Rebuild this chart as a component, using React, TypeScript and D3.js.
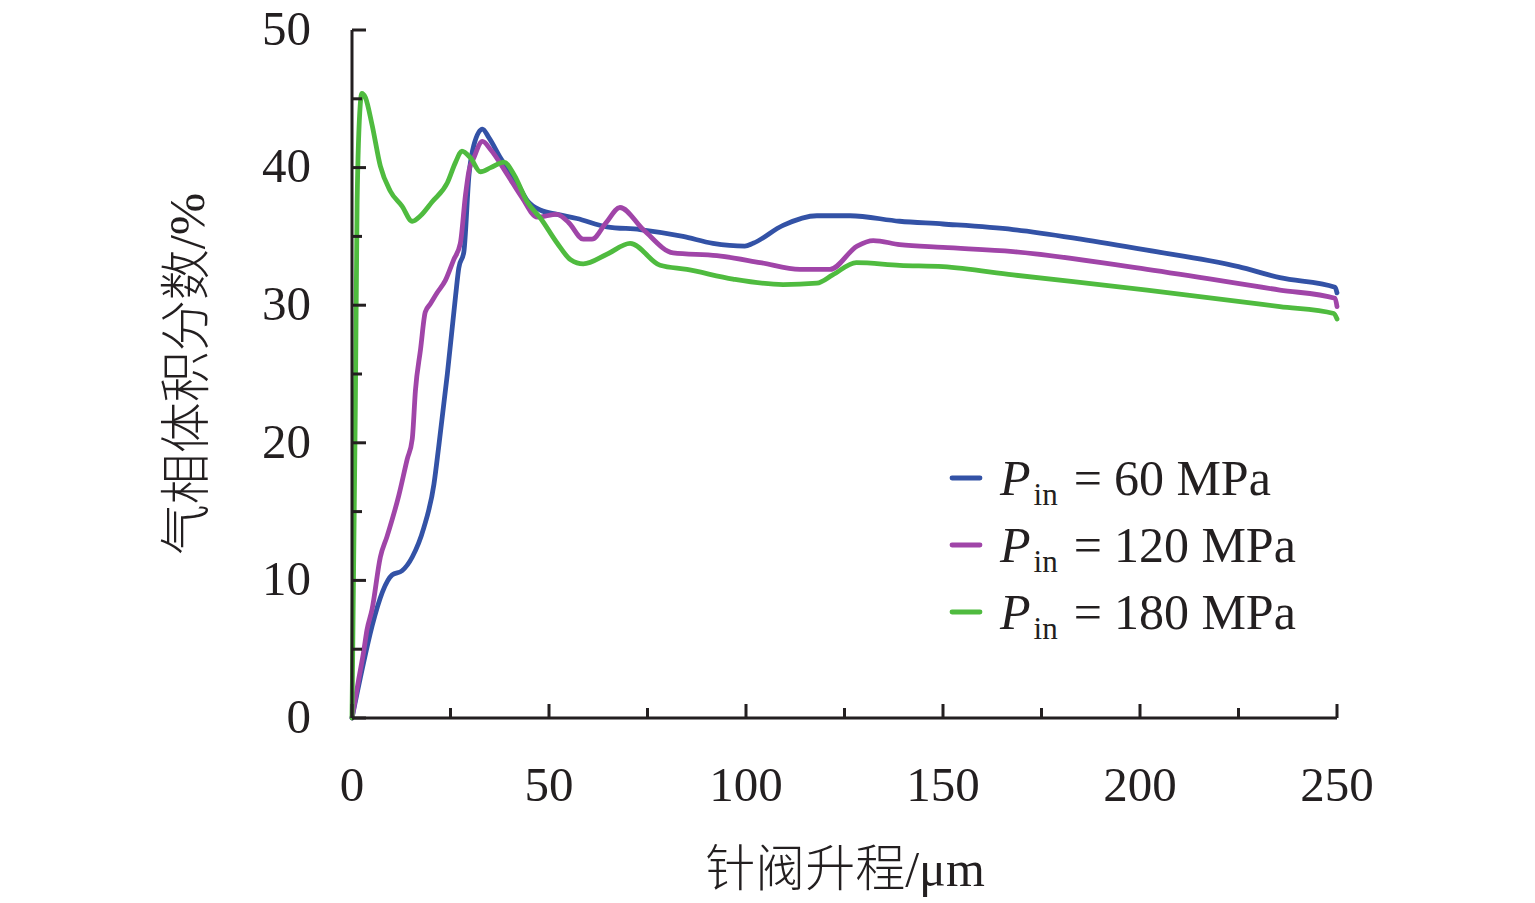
import { useEffect, useRef } from 'react';
import * as d3 from 'd3';

// Needle valve lift (µm) vs vapour volume fraction (%), three inlet pressures
const LIFT_60 = [0, 10.2, 12.7, 15.3, 18.2, 20.8, 22.0, 24.2, 26.3, 27.1, 28.4, 29.7, 30.9, 33.1, 34.7, 37.7, 41.9, 44.5, 47.9, 52.1, 57.1, 64.7, 73.1, 84, 91.6, 99.7, 101.8, 109.4, 118, 126.4, 139, 150, 167.8, 185, 201.8, 225, 235.5, 249.5, 250];
const VAPOUR_60 = [0, 10.4, 10.7, 11.7, 13.8, 17.0, 19.7, 25.0, 30.7, 32.7, 33.9, 39.5, 41.6, 42.8, 42.2, 40.7, 38.9, 37.6, 36.9, 36.6, 36.3, 35.7, 35.5, 35.0, 34.5, 34.3, 34.5, 35.8, 36.5, 36.5, 36.1, 35.9, 35.5, 34.8, 34.0, 32.8, 32.0, 31.3, 30.9];

const LIFT_120 = [0, 1.7, 3.0, 3.8, 5.1, 7.2, 8.9, 11.9, 14.0, 15.3, 16.1, 17.4, 18.6, 19.9, 21.6, 23.7, 25.8, 27.5, 28.8, 29.7, 30.9, 33.1, 35.2, 39.4, 43.2, 47.0, 52.0, 55, 58.7, 60.9, 64.5, 68.0, 73.9, 81.5, 92.6, 103.6, 113.7, 121.3, 128.2, 132.3, 139, 150, 167.8, 201.8, 235.5, 249.5, 250];
const VAPOUR_120 = [0, 2.8, 4.9, 6.4, 7.9, 11.7, 13.2, 16.2, 18.8, 20.3, 23.8, 26.8, 29.5, 30.1, 30.9, 31.8, 33.3, 34.5, 38.0, 39.8, 40.7, 41.9, 41.3, 39.5, 37.8, 36.4, 36.6, 36.0, 34.8, 34.8, 36.0, 37.1, 35.5, 33.8, 33.6, 33.1, 32.6, 32.6, 34.3, 34.7, 34.4, 34.2, 33.9, 32.6, 31.1, 30.5, 29.9];

const LIFT_180 = [0, 0.4, 0.85, 1.3, 2.1, 2.5, 3.4, 5.1, 7.2, 9.7, 12.7, 15.3, 17.4, 20.3, 24.2, 26.3, 27.9, 30.1, 32.6, 35.2, 38.6, 41.1, 44.5, 47.9, 52.1, 55.5, 58.7, 64.7, 70.6, 78.2, 85, 96.7, 109.4, 118, 122, 128, 139, 150, 167.8, 201.8, 235.5, 249.2, 250];
const VAPOUR_180 = [0, 10.8, 22.7, 37.5, 44.6, 45.4, 45.1, 43.1, 40.1, 38.3, 37.2, 36.1, 36.5, 37.5, 38.9, 40.4, 41.2, 40.7, 39.7, 40.0, 40.4, 39.5, 37.5, 36.3, 34.5, 33.3, 33.0, 33.7, 34.5, 32.9, 32.6, 31.9, 31.5, 31.6, 32.2, 33.1, 32.9, 32.8, 32.2, 31.1, 29.9, 29.4, 29.0];

const SERIES_PRESSURE = ['60', '120', '180'];
const SERIES_COLORS = ['#3352a6', '#a045a8', '#4fbb3f'];

const X_TICKS = [0, 50, 100, 150, 200, 250];
const Y_TICKS = [0, 10, 20, 30, 40, 50];

const WIDTH = 1535;
const HEIGHT = 903;
const MARGIN = { top: 30, right: 198, bottom: 185, left: 352 };

const SERIF = '"Times New Roman", "Liberation Serif", serif';
const CJK = '"Noto Sans CJK SC", sans-serif';
const AXIS_COLOR = '#231f20';

export default function App() {
  const svgRef = useRef<SVGSVGElement>(null);

  useEffect(() => {
    if (!svgRef.current) return;
    const svg = d3.select(svgRef.current);
    svg.selectAll('*').remove();

    const chartWidth = WIDTH - MARGIN.left - MARGIN.right;
    const chartHeight = HEIGHT - MARGIN.top - MARGIN.bottom;

    const xScale = d3.scaleLinear().domain([0, 250]).range([0, chartWidth]);
    const yScale = d3.scaleLinear().domain([0, 50]).range([chartHeight, 0]);

    const g = svg.append('g').attr('transform', `translate(${MARGIN.left}, ${MARGIN.top})`);

    // Curves
    const series = [
      { xs: LIFT_60, ys: VAPOUR_60 },
      { xs: LIFT_120, ys: VAPOUR_120 },
      { xs: LIFT_180, ys: VAPOUR_180 },
    ];
    const line = d3
      .line<[number, number]>()
      .x(d => xScale(d[0]))
      .y(d => yScale(d[1]))
      .curve(d3.curveMonotoneX);

    series.forEach((s, i) => {
      const pts = s.xs.map((x, k) => [x, s.ys[k]] as [number, number]);
      g.append('path')
        .attr('d', line(pts))
        .attr('fill', 'none')
        .attr('stroke', SERIES_COLORS[i])
        .attr('stroke-width', 4.8)
        .attr('stroke-linejoin', 'round')
        .attr('stroke-linecap', 'round');
    });

    // Axes (ticks pointing inward, minor every half step)
    const xAxis = g.append('g').attr('transform', `translate(0, ${chartHeight})`);
    xAxis
      .append('line')
      .attr('x1', 0)
      .attr('x2', chartWidth)
      .attr('stroke', AXIS_COLOR)
      .attr('stroke-width', 3);
    d3.range(0, 251, 25).forEach(v => {
      const major = v % 50 === 0;
      xAxis
        .append('line')
        .attr('x1', xScale(v))
        .attr('x2', xScale(v))
        .attr('y1', 0)
        .attr('y2', major ? -14 : -10)
        .attr('stroke', AXIS_COLOR)
        .attr('stroke-width', 3);
    });
    X_TICKS.forEach(v => {
      xAxis
        .append('text')
        .attr('x', xScale(v))
        .attr('y', 83)
        .attr('text-anchor', 'middle')
        .attr('font-family', SERIF)
        .attr('font-size', 49)
        .attr('fill', AXIS_COLOR)
        .text(v);
    });

    const yAxis = g.append('g');
    yAxis
      .append('line')
      .attr('y1', 0)
      .attr('y2', chartHeight)
      .attr('stroke', AXIS_COLOR)
      .attr('stroke-width', 3);
    d3.range(0, 51, 5).forEach(v => {
      const major = v % 10 === 0;
      yAxis
        .append('line')
        .attr('x1', 0)
        .attr('x2', major ? 14 : 10)
        .attr('y1', yScale(v))
        .attr('y2', yScale(v))
        .attr('stroke', AXIS_COLOR)
        .attr('stroke-width', 3);
    });
    Y_TICKS.forEach(v => {
      yAxis
        .append('text')
        .attr('x', -41)
        .attr('y', yScale(v))
        .attr('dy', '0.3em')
        .attr('text-anchor', 'end')
        .attr('font-family', SERIF)
        .attr('font-size', 49)
        .attr('fill', AXIS_COLOR)
        .text(v);
    });

    // Axis titles
    const xTitle = svg
      .append('text')
      .attr('x', 845)
      .attr('y', 886)
      .attr('text-anchor', 'middle')
      .attr('font-size', 50)
      .attr('fill', AXIS_COLOR);
    xTitle.append('tspan').attr('font-family', CJK).attr('font-weight', 300).text('针阀升程');
    xTitle.append('tspan').attr('font-family', SERIF).text('/μm');

    const yTitle = svg
      .append('text')
      .attr('transform', 'translate(204, 374) rotate(-90)')
      .attr('text-anchor', 'middle')
      .attr('font-size', 51)
      .attr('fill', AXIS_COLOR);
    yTitle.append('tspan').attr('font-family', CJK).attr('font-weight', 300).text('气相体积分数');
    yTitle.append('tspan').attr('font-family', SERIF).text('/%');

    // Legend
    const legend = svg.append('g').attr('transform', 'translate(950, 478)');
    SERIES_PRESSURE.forEach((p, i) => {
      const row = legend.append('g').attr('transform', `translate(0, ${i * 67})`);
      row
        .append('line')
        .attr('x1', 2)
        .attr('x2', 30)
        .attr('stroke', SERIES_COLORS[i])
        .attr('stroke-width', 4.8)
        .attr('stroke-linecap', 'round');
      const t = row
        .append('text')
        .attr('x', 50)
        .attr('y', 17)
        .attr('font-family', SERIF)
        .attr('font-size', 50)
        .attr('fill', AXIS_COLOR);
      t.append('tspan').attr('font-style', 'italic').text('P');
      t.append('tspan').attr('font-size', 31).attr('dy', 10).attr('dx', 3).text('in');
      t.append('tspan').attr('dy', -10).attr('dx', 16).text('=');
      t.append('tspan').attr('dx', 12).text(`${p} MPa`);
    });
  }, []);

  return (
    <div style={{ position: 'absolute', left: 0, top: 0, background: '#ffffff' }}>
      <svg ref={svgRef} width={WIDTH} height={HEIGHT} style={{ display: 'block' }} />
    </div>
  );
}
